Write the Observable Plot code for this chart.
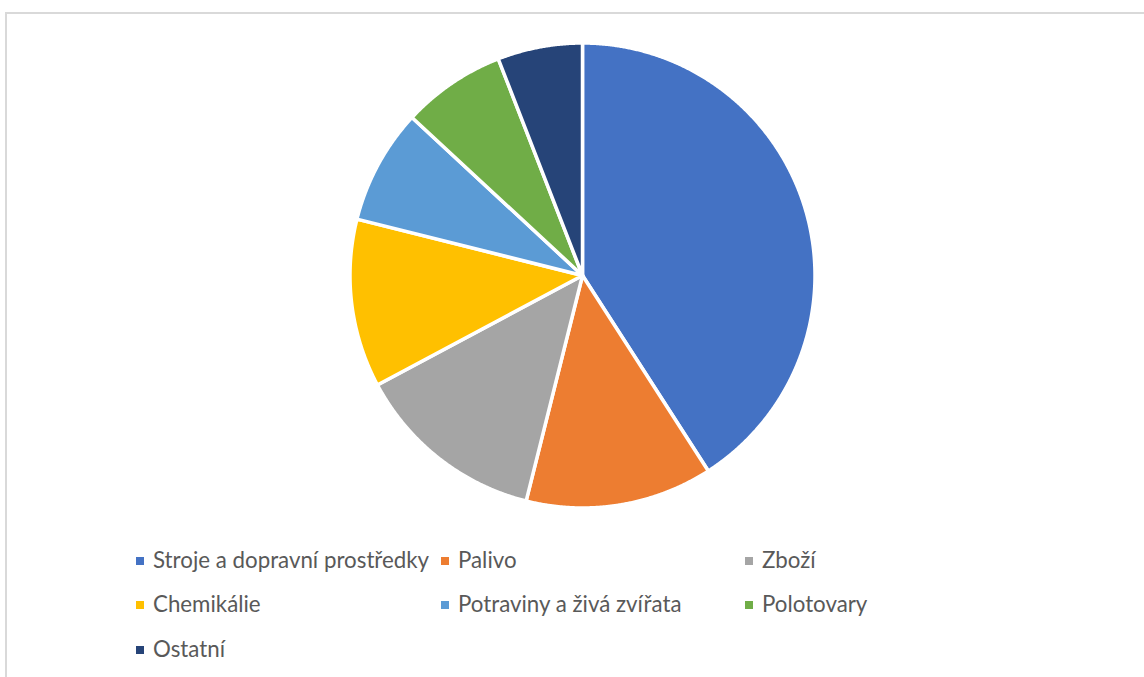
<!DOCTYPE html>
<html>
<head>
<meta charset="utf-8">
<script src="https://cdn.jsdelivr.net/npm/d3@7"></script>
<script src="https://cdn.jsdelivr.net/npm/@observablehq/plot@0.6"></script>
<style>
  html, body { margin: 0; padding: 0; background: #fff; overflow: hidden; width: 1144px; height: 677px; }
  #frame { position: absolute; left: 5px; top: 12px; width: 3000px; height: 3000px;
           border-left: 2px solid #d9d9d9; border-top: 2px solid #d9d9d9; }
  #chart { position: absolute; left: 0; top: 0; }
  .leg { position: absolute; font-family: Lato, "Open Sans", sans-serif; font-size: 22.3px; color: #595959; white-space: nowrap; line-height: 26px; }
  .sw { position: absolute; width: 8px; height: 8px; }
</style>
</head>
<body>
<div id="frame"></div>
<div id="chart"></div>
<div id="legend"></div>
<script>
const categories = ["Stroje a dopravní prostředky", "Palivo", "Zboží", "Chemikálie", "Potraviny a živá zvířata", "Polotovary", "Ostatní"];
const values = [40.9, 13.0, 13.3, 11.7, 8.0, 7.2, 5.9];
const colors = ["#4472C4", "#ED7D31", "#A5A5A5", "#FFC000", "#5B9BD5", "#70AD47", "#264478"];

const arcs = d3.pie().sort(null).value((d) => d.value)(categories.map((c, i) => ({cat: c, value: values[i]})));
const pts = [];
for (const a of arcs) {
  const cat = a.data.cat;
  pts.push({cat, x: 0, y: 0});
  const n = Math.max(2, Math.ceil((a.endAngle - a.startAngle) / (Math.PI / 720)));
  for (let k = 0; k <= n; k++) {
    const t = a.startAngle + (a.endAngle - a.startAngle) * k / n;
    pts.push({cat, x: Math.sin(t), y: Math.cos(t)});
  }
  pts.push({cat, x: 0, y: 0});
}

const R = 232.5, cx = 582, cy = 275, W = 1144, H = 520;
const plot = Plot.plot({
  width: W, height: H,
  marginLeft: cx - R, marginRight: W - cx - R,
  marginTop: cy - R, marginBottom: H - cy - R,
  x: {domain: [-1, 1], axis: null},
  y: {domain: [-1, 1], axis: null},
  color: {type: "ordinal", domain: categories, range: colors},
  marks: [
    Plot.line(pts, {x: "x", y: "y", z: "cat", fill: "cat", stroke: "white", strokeWidth: 3.5, curve: "linear"})
  ]
});
document.getElementById("chart").appendChild(plot);

// legend
const legCols = [[136, 153], [441, 458], [745, 762]];
const legRows = [561, 605, 650];
const leg = document.getElementById("legend");
categories.forEach((c, i) => {
  const col = legCols[i % 3], row = legRows[Math.floor(i / 3)];
  const sw = document.createElement("div");
  sw.className = "sw";
  sw.style.left = col[0] + "px";
  sw.style.top = (row - 4) + "px";
  sw.style.background = colors[i];
  leg.appendChild(sw);
  const t = document.createElement("div");
  t.className = "leg";
  t.style.left = col[1] + "px";
  t.style.top = (row - 14) + "px";
  t.textContent = c;
  leg.appendChild(t);
});
</script>
</body>
</html>
